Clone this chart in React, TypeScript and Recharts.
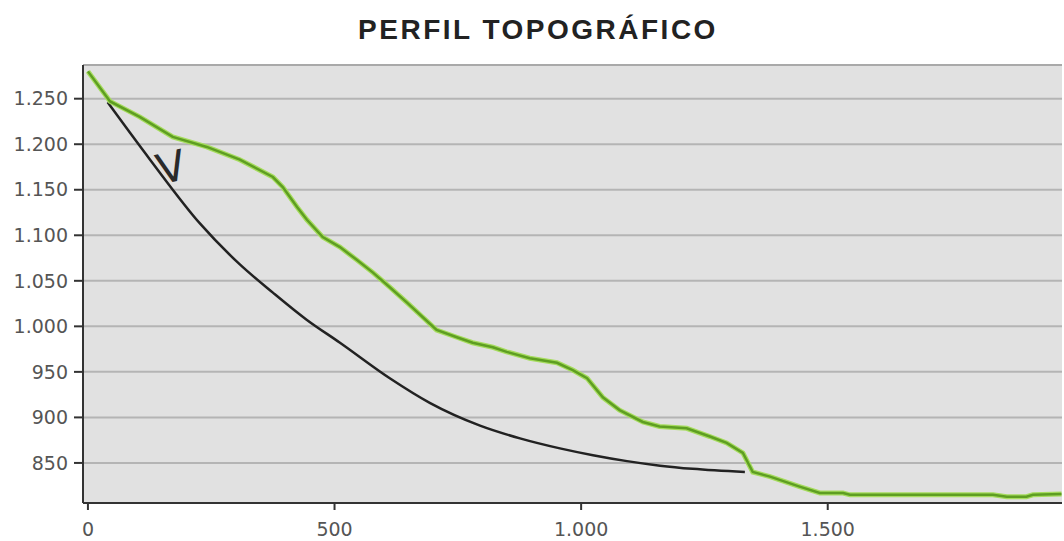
import React from "react";
import {
  LineChart,
  Line,
  XAxis,
  YAxis,
  CartesianGrid,
  ReferenceLine,
} from "recharts";

// distance (m) and elevation (m)
const terrainX = [
  0, 45, 105, 172, 241, 308, 375, 395, 424, 444, 476, 511, 545, 578, 612, 647,
  679, 707, 748, 780, 821, 849, 896, 951, 983, 1012, 1044, 1078, 1125, 1159,
  1214, 1261, 1295, 1328, 1348, 1383, 1443, 1484, 1531, 1545, 1835, 1863, 1903,
  1916, 1974,
];
const terrainY = [
  1280, 1247, 1230, 1208, 1197, 1183, 1164, 1153, 1131, 1117, 1098, 1087, 1073,
  1059, 1043, 1026, 1010, 996, 988, 982, 977, 972, 965, 960, 952, 943, 922, 908,
  895, 890, 888, 879, 872, 861, 840, 835, 824, 817, 817, 815, 815, 813, 813,
  815, 816,
];

const curveX = [40, 126, 227, 308, 375, 444, 511, 612, 693, 795, 876, 957, 1024, 1093, 1160, 1226, 1332];
const curveY = [1246, 1183, 1113, 1068, 1037, 1007, 982, 943, 916, 891, 877, 866, 858.5, 852, 847, 843.5, 840];

const xTicks = [0, 500, 1000, 1500];
const yTicks = [850, 900, 950, 1000, 1050, 1100, 1150, 1200, 1250];

const terrain = terrainX.map((x, i) => ({ x, y: terrainY[i] }));
const curve = curveX.map((x, i) => ({ x, y: curveY[i] }));

function fmt(v: number): string {
  const s = String(Math.round(v));
  return s.length > 3 ? `${s.slice(0, s.length - 3)}.${s.slice(-3)}` : s;
}

const tickStyle = { fontSize: 19, fill: "#555", fontFamily: "DejaVu Sans" };

export default function App() {
  return (
    <div style={{ position: "absolute", left: 0, top: 0, width: 1064, height: 541, background: "#fff", overflow: "hidden" }}>
      {/* Title */}
      <div
        style={{
          position: "absolute",
          left: 0,
          width: 1076,
          top: 14,
          textAlign: "center",
          fontFamily: "Liberation Sans, Arial, sans-serif",
          fontWeight: 700,
          fontSize: 28,
          letterSpacing: 2.5,
          color: "#222",
        }}
      >
        PERFIL TOPOGRÁFICO
      </div>

      <LineChart width={1064} height={541} margin={{ top: 65, right: 2, bottom: 8, left: 0 }}>
        <CartesianGrid vertical={false} fill="#e1e1e1" stroke="#b4b4b4" strokeWidth={2} />
        <ReferenceLine y={1287} stroke="#a9a9a9" strokeWidth={2} />
        <XAxis
          type="number"
          dataKey="x"
          domain={[-10, 1975]}
          ticks={xTicks}
          allowDataOverflow
          height={30}
          tickFormatter={fmt}
          tick={tickStyle}
          tickSize={7}
          tickMargin={13}
          stroke="#333"
          strokeWidth={2}
        />
        <YAxis
          type="number"
          domain={[806, 1287]}
          ticks={yTicks}
          allowDataOverflow
          width={83}
          tickFormatter={fmt}
          tick={tickStyle}
          tickSize={9}
          tickMargin={6}
          stroke="#333"
          strokeWidth={2}
        />
        <Line
          data={curve}
          dataKey="y"
          type="monotone"
          stroke="#222"
          strokeWidth={2.5}
          dot={false}
          isAnimationActive={false}
        />
        <Line
          data={terrain}
          dataKey="y"
          type="linear"
          stroke="#a6dc5e"
          strokeWidth={5}
          dot={false}
          isAnimationActive={false}
        />
        <Line
          data={terrain}
          dataKey="y"
          type="linear"
          stroke="#5e9e22"
          strokeWidth={2.5}
          dot={false}
          isAnimationActive={false}
        />
      </LineChart>

      {/* hand-drawn mark */}
      <div
        style={{
          position: "absolute",
          left: 157,
          top: 147,
          fontFamily: "DejaVu Sans",
          fontWeight: 400,
          fontSize: 42,
          lineHeight: 1,
          color: "#2a2a2a",
          transform: "rotate(-14deg)",
        }}
      >
        V
      </div>
    </div>
  );
}
